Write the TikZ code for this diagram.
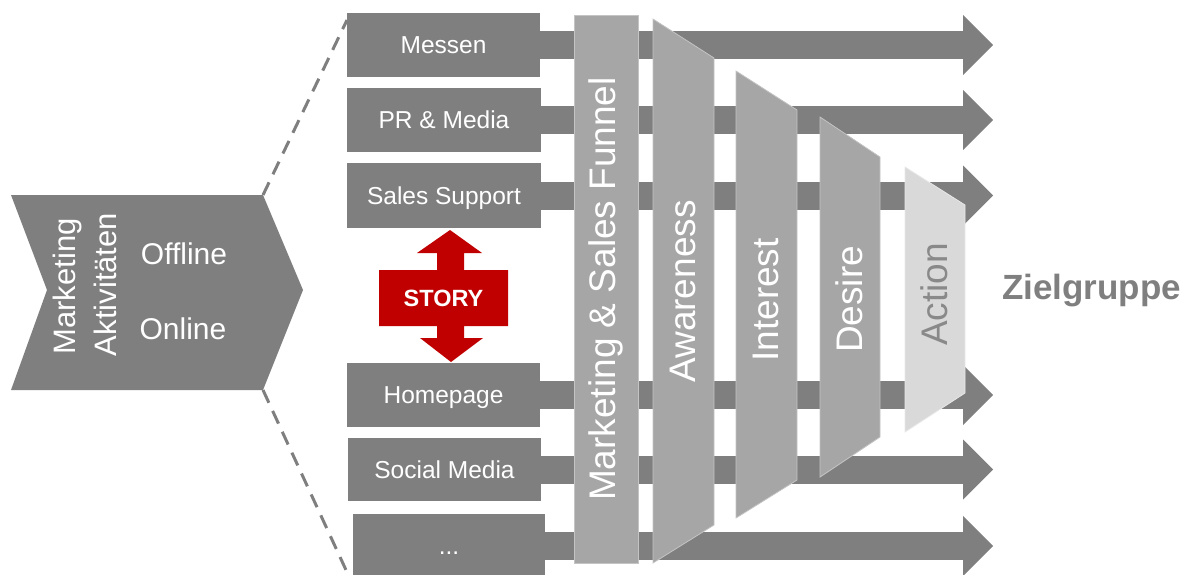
\documentclass[tikz,border=0pt]{standalone}
\usepackage{fontspec}
\setmainfont{Liberation Sans}
\usetikzlibrary{arrows.meta}
\definecolor{boxgray}{HTML}{7F7F7F}
\definecolor{stagegray}{HTML}{A6A6A6}
\definecolor{stageedge}{HTML}{C4C4C4}
\definecolor{actionfill}{HTML}{D9D9D9}
\definecolor{actionedge}{HTML}{E8E8E8}
\definecolor{actiontext}{HTML}{898989}
\definecolor{storyred}{HTML}{C00000}
\begin{document}
\begin{tikzpicture}[x=1pt,y=-1pt,
  outbox/.style={fill=boxgray, text=white, minimum width=193pt, minimum height=64pt,
    inner sep=0pt, font=\fontsize{24.5}{28}\selectfont, text height=17.5pt, text depth=0pt},
  band/.style={draw=boxgray, line width=28pt,
    -{Triangle[length=30pt,width=60pt,line width=0pt]}},
  guide/.style={draw=boxgray, line width=3pt, dash pattern=on 14pt off 9pt},
  stage/.style={fill=stagegray, draw=stageedge, line width=0.8pt},
  stagetext/.style={rotate=90, text=white, inner sep=0pt, font=\fontsize{37}{40}\selectfont},
  chevtext/.style={text=white, inner sep=0pt, font=\fontsize{30}{34}\selectfont}]
\useasboundingbox (0,0) rectangle (1190,574);

% chevron "Marketing Aktivitaeten"
\coordinate (chevTL) at (11,195);
\coordinate (chevTR) at (263,195);
\coordinate (chevTip) at (303,290);
\coordinate (chevBR) at (263,390);
\coordinate (chevBL) at (11,390);
\coordinate (chevNotch) at (47,290);
\coordinate (guideTop) at (347,20);
\coordinate (guideBot) at (346,570);
\draw[guide] (chevTR) -- (guideTop);
\draw[guide] (chevBR) -- (guideBot);
\fill[boxgray] (chevTL) -- (chevTR) -- (chevTip) -- (chevBR) -- (chevBL) -- (chevNotch) -- cycle;
\node[chevtext, rotate=90, font=\fontsize{31}{34}\selectfont] (mkt) at (67,286.5) {Marketing};
\node[chevtext, rotate=90, font=\fontsize{31}{34}\selectfont] (akt) at (105,284.5) {Aktivitäten};
\node[chevtext, text height=21pt, text depth=0pt] (offline) at (184,254) {Offline};
\node[chevtext, text height=21pt, text depth=0pt] (online) at (183,329) {Online};

% channel boxes
\node[outbox] (messen) at (443.5,45) {Messen};
\node[outbox, minimum width=194pt] (pr) at (444,120) {PR \& Media};
\node[outbox, minimum width=194pt, minimum height=65pt] (sales) at (444,195.5) {Sales Support};
\node[outbox] (home) at (443.5,395) {Homepage};
\node[outbox, minimum height=63pt] (social) at (444.5,469.5) {Social Media};
\node[outbox, minimum width=192pt] (more) at (449,546) {...};

% bands towards the target group
\coordinate (tipx) at (993,0);
\foreach \src in {messen,pr,sales,home,social,more}
  \draw[band] (\src) -- (\src -| tipx);

% story arrow
\fill[storyred] (450,230) -- (482,253) -- (464,253) -- (464,270) -- (508,270) -- (508,326)
  -- (464,326) -- (464,338) -- (483,338) -- (451,362) -- (420,338) -- (437,338)
  -- (437,326) -- (379,326) -- (379,270) -- (437,270) -- (437,253) -- (417,253) -- cycle;
\node[text=white, inner sep=0pt, font=\fontsize{23.5}{26}\selectfont\bfseries,
  text height=17pt, text depth=0pt] (story) at (443.5,297.5) {STORY};

% funnel bar
\node[rotate=90, fill=stagegray, draw=stageedge, line width=0.8pt, minimum width=548pt,
  minimum height=64pt, inner sep=0pt, text=white, font=\fontsize{37}{40}\selectfont]
  (funnel) at (606,289) {Marketing \& Sales Funnel};

% funnel stages
\fill[stage] (653,19) -- (714,58) -- (714,525) -- (653,563) -- cycle;
\fill[stage] (736,71) -- (797,110) -- (797,480) -- (736,518) -- cycle;
\fill[stage] (820,117) -- (880,157) -- (880,437) -- (820,477) -- cycle;
\filldraw[fill=actionfill, draw=actionedge, line width=0.8pt]
  (905,167) -- (965,205) -- (965,393) -- (905,432) -- cycle;
\node[stagetext] (aware) at (682.5,291.5) {Awareness};
\node[stagetext] (interest) at (766,300) {Interest};
\node[stagetext] (desire) at (849,299.5) {Desire};
\node[stagetext, text=actiontext] (action) at (934.5,294.5) {Action};

% target group
\node[anchor=base, inner sep=0pt, text=boxgray, font=\fontsize{35}{38}\selectfont\bfseries]
  (ziel) at (1091.5,299) {Zielgruppe};
\end{tikzpicture}
\end{document}
